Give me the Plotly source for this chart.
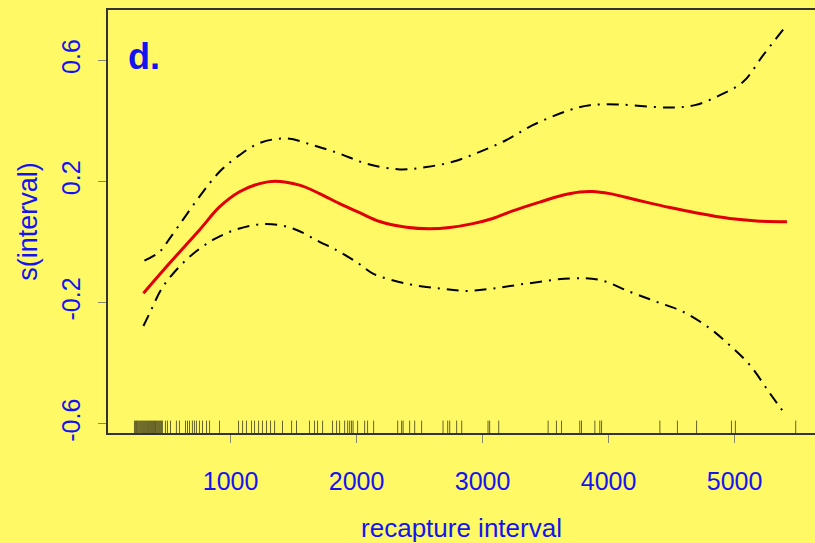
import plotly.graph_objects as go

# ---- data ----
fit_x = [308, 515, 753, 912, 1071, 1230, 1349, 1547, 1706, 1865, 2024, 2183, 2395, 2580, 2739,
         2922, 3080, 3239, 3453, 3612, 3771, 3870, 4009, 4224, 4486, 4700, 4962, 5177, 5415]
fit_y = [-0.169, -0.070, 0.040, 0.116, 0.166, 0.193, 0.201, 0.188, 0.160, 0.127, 0.097, 0.068, 0.049, 0.044, 0.048,
         0.061, 0.078, 0.103, 0.132, 0.152, 0.165, 0.167, 0.160, 0.139, 0.114, 0.096, 0.078, 0.070, 0.067]

upper_x = [316, 436, 530, 753, 912, 1071, 1230, 1441, 1652, 1865, 2077, 2342, 2554, 2763, 2977,
           3189, 3398, 3692, 3851, 4089, 4486, 4685, 4884, 5068, 5227, 5386]
upper_y = [-0.061, -0.032, 0.020, 0.150, 0.232, 0.287, 0.327, 0.342, 0.320, 0.292, 0.259, 0.240, 0.248, 0.265, 0.298,
           0.337, 0.386, 0.436, 0.452, 0.454, 0.444, 0.452, 0.485, 0.529, 0.617, 0.702]

lower_x = [308, 356, 462, 647, 859, 1071, 1284, 1494, 1706, 1865, 2024, 2130, 2395, 2659, 2871,
           3083, 3348, 3692, 3930, 4168, 4380, 4592, 4804, 4962, 5121, 5280, 5399]
lower_y = [-0.277, -0.236, -0.148, -0.059, 0.007, 0.045, 0.060, 0.045, 0.001, -0.032, -0.073, -0.104, -0.137, -0.153, -0.161,
           -0.153, -0.137, -0.120, -0.125, -0.164, -0.197, -0.230, -0.285, -0.341, -0.406, -0.499, -0.567]

rug_x = [237, 245, 253, 260, 268, 276, 284, 292, 300, 308, 316, 324, 332, 340, 348, 356, 364, 372, 380,
         388, 396, 404, 411, 419, 427, 435, 443, 451, 459, 483, 499, 523, 570, 594, 642, 658, 674, 697,
         713, 729, 753, 777, 809, 833, 912, 1063, 1095, 1126, 1166, 1190, 1222, 1253, 1285, 1317, 1349,
         1412, 1484, 1523, 1626, 1666, 1690, 1730, 1809, 1841, 1865, 1905, 1929, 1945, 1960, 1972, 2008,
         2064, 2087, 2135, 2326, 2357, 2369, 2421, 2461, 2516, 2686, 2723, 2739, 2794, 2834, 3043, 3056,
         3128, 3520, 3586, 3626, 3771, 3785, 3891, 3930, 3944, 4407, 4546, 4698, 4975, 5006, 5485]

x_ticks = [1000, 2000, 3000, 4000, 5000]
y_ticks = [-0.6, -0.2, 0.2, 0.6]
y_tick_text = ["-0.6", "-0.2", "0.2", "0.6"]

x_range = [27, 5638]
y_range = [-0.630, 0.766]

BG = "#FFF966"
BLUE = "#1414F0"
FONT = "Liberation Sans, Arial, Helvetica, sans-serif"

fig = go.Figure()

# rug
rug_top = y_range[0] + 0.041
rx, ry = [], []
for v in rug_x:
    rx += [v, v, None]
    ry += [y_range[0], rug_top, None]
fig.add_trace(go.Scatter(x=rx, y=ry, mode="lines",
                         line=dict(color="rgba(0,0,0,0.6)", width=1),
                         hoverinfo="skip", showlegend=False))

dash = "12px,7px,2px,7px"
fig.add_trace(go.Scatter(x=upper_x, y=upper_y, mode="lines", line_shape="spline",
                         line=dict(color="black", width=2, dash=dash), showlegend=False))
fig.add_trace(go.Scatter(x=lower_x, y=lower_y, mode="lines", line_shape="spline",
                         line=dict(color="black", width=2, dash=dash), showlegend=False))
fig.add_trace(go.Scatter(x=fit_x, y=fit_y, mode="lines", line_shape="spline",
                         line=dict(color="#E00000", width=3), showlegend=False))

fig.update_layout(
    width=815, height=543,
    margin=dict(l=108, r=0, t=10, b=110),
    paper_bgcolor=BG, plot_bgcolor=BG,
    font=dict(family=FONT, color=BLUE, size=25),
    showlegend=False,
    xaxis=dict(range=x_range, tickvals=x_ticks, showgrid=False, zeroline=False,
               showline=True, linecolor="#333333", linewidth=1.5, mirror=True,
               ticks="outside", ticklen=8, tickcolor="#888866", tickwidth=1,
               ticklabelstandoff=17,
               tickfont=dict(size=25, color=BLUE, family=FONT),
               title=dict(text="recapture interval", font=dict(size=26, color=BLUE, family=FONT),
                          standoff=25)),
    yaxis=dict(range=y_range, tickvals=y_ticks, ticktext=y_tick_text, showgrid=False, zeroline=False,
               showline=True, linecolor="#333333", linewidth=1.5,
               ticks="outside", ticklen=8, tickcolor="#888866", tickwidth=1,
               tickangle=-90, ticklabelstandoff=8,
               tickfont=dict(size=25, color=BLUE, family=FONT),
               title=dict(text="s(interval)", font=dict(size=27, color=BLUE, family=FONT),
                          standoff=12)),
)

fig.add_annotation(text="<b>d.</b>", xref="paper", yref="paper", x=0.025, y=0.89,
                   xanchor="left", yanchor="middle", showarrow=False,
                   font=dict(size=36, color=BLUE, family=FONT))

fig.write_html("out.html")
